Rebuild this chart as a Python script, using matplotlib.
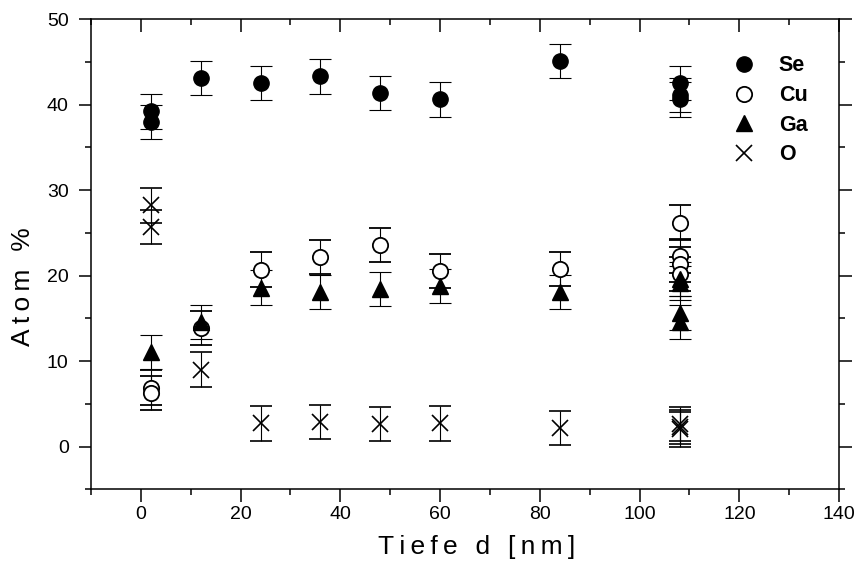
import matplotlib.pyplot as plt
from matplotlib.ticker import MultipleLocator

plt.rcParams['font.family'] = ['Liberation Sans', 'DejaVu Sans']

# Messwerte: Tiefe d [nm] und Atom-% je Element
se_x = [2, 2, 12, 24, 36, 48, 60, 84, 108, 108, 108]
se_y = [39.2, 38.0, 43.1, 42.5, 43.3, 41.4, 40.6, 45.1, 42.5, 41.1, 40.6]

cu_x = [2, 2, 12, 24, 36, 48, 60, 84, 108, 108, 108, 108]
cu_y = [6.9, 6.3, 13.9, 20.7, 22.2, 23.6, 20.5, 20.8, 26.2, 22.3, 21.3, 20.2]

ga_x = [2, 12, 24, 36, 48, 60, 84, 108, 108, 108, 108]
ga_y = [11.1, 14.6, 18.6, 18.1, 18.4, 18.8, 18.1, 19.6, 19.1, 15.6, 14.6]

o_x = [2, 2, 12, 24, 36, 48, 60, 84, 108, 108, 108]
o_y = [28.2, 25.7, 9.0, 2.7, 2.9, 2.6, 2.7, 2.2, 2.6, 2.3, 2.0]

# Fehler (Atom-%)
err = 2.0


def spaced(s):
    # gesperrte Schrift wie im Original
    return '\u2009'.join(s)


fig = plt.figure(figsize=(8.58, 5.63), dpi=100)
ax = fig.add_axes([0.106, 0.131, 0.872, 0.835])

eb = dict(yerr=err, ls='none', ecolor='black', elinewidth=0.8,
          capsize=8, capthick=0.8, ms=11)

h_se = ax.errorbar(se_x, se_y, fmt='o', mfc='black', mec='black', **eb)
h_cu = ax.errorbar(cu_x, cu_y, fmt='o', mfc='white', mec='black', mew=1.3, **eb)
h_ga = ax.errorbar(ga_x, ga_y, fmt='^', mfc='black', mec='black', **eb)
h_o = ax.errorbar(o_x, o_y, fmt='x', mec='black', mew=1.2, **eb)

ax.set_xlim(-10, 140)
ax.set_ylim(-5, 50)
ax.xaxis.set_major_locator(MultipleLocator(20))
ax.xaxis.set_minor_locator(MultipleLocator(10))
ax.yaxis.set_major_locator(MultipleLocator(10))
ax.yaxis.set_minor_locator(MultipleLocator(5))

ax.tick_params(which='both', direction='out', width=1.1, labelsize=14)
ax.tick_params(which='major', length=9)
ax.tick_params(which='minor', length=4.5)
ax.tick_params(axis='x', which='both', pad=3)
ax.tick_params(axis='y', which='both', pad=7)
ax.tick_params(which='both', top=True, right=True)
for tick in ax.xaxis.get_major_ticks() + ax.xaxis.get_minor_ticks():
    tick.tick2line.set_marker(3)
for tick in ax.yaxis.get_major_ticks() + ax.yaxis.get_minor_ticks():
    tick.tick2line.set_marker(1)

for s in ax.spines.values():
    s.set_linewidth(1.1)

ax.set_xlabel(spaced('Tiefe d [nm]'), fontsize=19)
ax.set_ylabel(spaced('Atom %'), fontsize=19)
ax.xaxis.set_label_coords(0.515, -0.098)
ax.yaxis.set_label_coords(-0.075, 0.43)

leg = ax.legend([h_se[0], h_cu[0], h_ga[0], h_o[0]], ['Se', 'Cu', 'Ga', 'O'],
                loc='upper left', bbox_to_anchor=(0.83, 0.964), frameon=False,
                prop={'weight': 'bold', 'size': 15.5}, handlelength=1.2,
                handletextpad=1.0, labelspacing=0.4)

fig.savefig('out.png', dpi=100)
